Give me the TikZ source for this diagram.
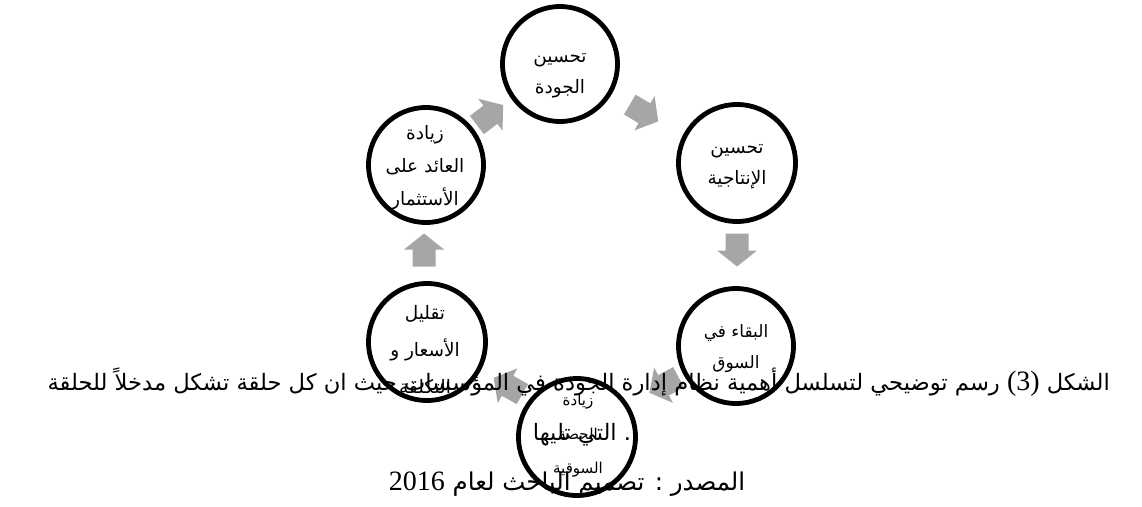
\documentclass[tikz,border=0pt]{standalone}
\usepackage{fontspec}
\newfontfamily\arabicfont[Script=Arabic]{DejaVu Sans}
\newfontfamily\serifnum{Liberation Serif}
\TeXXeTstate=1
\definecolor{arrowgray}{RGB}{166,166,166}
\newcommand{\AR}[1]{\beginR #1\endR}
\newcommand{\NUM}[1]{\beginL{\fontsize{28}{30}\selectfont\serifnum #1}\endL}
\newcommand{\cyclearrow}[3]{%
  \fill[arrowgray, shift={(#1,#2)}, rotate=#3]
    (-16.5,-11.5) -- (0.5,-11.5) -- (0.5,-20) -- (16.5,0) -- (0.5,20) -- (0.5,11.5) -- (-16.5,11.5) -- cycle;}
\tikzset{
  stage/.style={circle, draw=black, line width=4.8pt, fill=white, minimum size=#1, inner sep=0pt},
  stagetext/.style={inner sep=0pt, align=center, font=\fontsize{18.5}{31}\selectfont\arabicfont},
  captext/.style={inner sep=0pt, font=\fontsize{22.6}{26}\selectfont\arabicfont}
}
\begin{document}
\begin{tikzpicture}[x=1pt, y=-1pt]
\useasboundingbox (0,0) rectangle (1142,506);
\fill[white] (0,0) rectangle (1142,506);
% stages
\node[stage=115] (top) at (560,64) {};
\node[stage=117] (right) at (737,163) {};
\node[stage=115] (bright) at (736,346) {};
\node[stage=117] (bottom) at (577,437) {};
\node[stage=117] (bleft) at (427,342) {};
\node[stage=115] (tleft) at (426,165) {};
% stage texts
\node[stagetext] (ttop) at (560,76) {\AR{تحسين}\\\AR{الجودة}};
\node[stagetext] (tright) at (737,167) {\AR{تحسين}\\\AR{الإنتاجية}};
\node[stagetext, font=\fontsize{17}{31}\selectfont\arabicfont] (tbright) at (736,349) {\AR{البقاء في}\\\AR{السوق}};
\node[stagetext, font=\fontsize{15}{34}\selectfont\arabicfont] (tbottom) at (578,436) {\AR{زيادة}\\\AR{الحصة}\\\AR{السوقية}};
\node[stagetext, font=\fontsize{18.5}{37}\selectfont\arabicfont] (tbleft) at (425,349) {\AR{تقليل}\\\AR{الأسعار و}\\\AR{التكلفة}};
\node[stagetext, font=\fontsize{18.5}{33}\selectfont\arabicfont] (ttleft) at (425,168) {\AR{زيادة}\\\AR{العائد على}\\\AR{الأستثمار}};
% arrows
\cyclearrow{490}{115}{37.4}
\cyclearrow{644}{113}{-30.6}
\cyclearrow{737}{250}{-90}
\cyclearrow{664}{385}{-152}
\cyclearrow{508}{386}{150.5}
\cyclearrow{424}{250}{90}
% caption
\node[captext, anchor=base east] (cap1) at (1110,390)
  {\AR{الشكل \NUM{(3)} رسم توضيحي لتسلسل أهمية نظام إدارة الجودة في المؤسسات حيث ان كل حلقة تشكل مدخلاً للحلقة}};
\node[captext, anchor=base] (cap2) at (582,440) {\AR{التي تليها}\ .};
\node[captext, anchor=base, font=\fontsize{24.5}{28}\selectfont\arabicfont] (cap3) at (567,490)
  {\AR{المصدر : تصميم الباحث لعام \NUM{2016}}};
\end{tikzpicture}
\end{document}
